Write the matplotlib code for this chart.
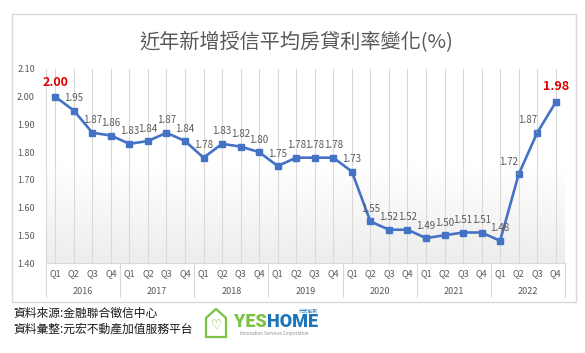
import numpy as np
import matplotlib
matplotlib.use("Agg")
from matplotlib import pyplot as plt
from matplotlib.colors import LinearSegmentedColormap
from matplotlib.patches import Rectangle, Polygon

plt.rcParams['font.family'] = ['Noto Sans CJK TC', 'DejaVu Sans']

years = ["2016", "2017", "2018", "2019", "2020", "2021", "2022"]
quarters = ["Q1", "Q2", "Q3", "Q4"]
rates = [2.00, 1.95, 1.87, 1.86,
         1.83, 1.84, 1.87, 1.84,
         1.78, 1.83, 1.82, 1.80,
         1.75, 1.78, 1.78, 1.78,
         1.73, 1.55, 1.52, 1.52,
         1.49, 1.50, 1.51, 1.51,
         1.48, 1.72, 1.87, 1.98]
yticks = [1.40, 1.50, 1.60, 1.70, 1.80, 1.90, 2.00, 2.10]

title = "近年新增授信平均房貸利率變化(%)"
source_lines = ["資料來源:金融聯合徵信中心", "資料彙整:元宏不動產加值服務平台"]

W, H = 585, 353
grey = "#595959"
line_col = "#4472C4"

fig = plt.figure(figsize=(W / 100, H / 100), dpi=100)

# outer border of the chart
fig.patches.append(Rectangle((12 / W, 1 - 302 / H), 564 / W, 288 / H, transform=fig.transFigure,
                             fill=False, edgecolor="#d9d9d9", linewidth=1))

fig.text(296 / W, 1 - 43 / H, title, ha="center", va="center", fontsize=14.5, color=grey,
         fontweight="medium")

ax = fig.add_axes([46 / W, 1 - 263 / H, 519 / W, 194 / H])
n = len(rates)
x = np.arange(n)

# background gradient of the plot area (white on top, light grey at the bottom)
cmap = LinearSegmentedColormap.from_list("bg", ["#ffffff", "#ffffff", "#ededed"])
grad = np.linspace(0, 1, 100).reshape(-1, 1)
ax.imshow(grad, extent=[-0.5, n - 0.5, 1.40, 2.10], aspect="auto", cmap=cmap, zorder=0)

for xi in x:
    ax.axvline(xi, color="#d9d9d9", linewidth=0.8, zorder=1)

ax.plot(x, rates, color=line_col, linewidth=1.9, marker="s", markersize=5, zorder=3)

ax.set_xlim(-0.5, n - 0.5)
ax.set_ylim(1.40, 2.10)
ax.set_yticks(yticks)
ax.set_yticklabels([f"{v:.2f}" for v in yticks])
ax.set_xticks([])
ax.tick_params(axis="y", length=0, pad=8, labelsize=6.5, labelcolor=grey)
for s in ["top", "right"]:
    ax.spines[s].set_visible(False)
ax.spines["left"].set_color("#d9d9d9")
ax.spines["bottom"].set_color("#d9d9d9")

# multi-level category labels
trans = ax.get_xaxis_transform()
for i in range(n):
    ax.text(i, -11 / 194, quarters[i % 4], transform=trans, ha="center", va="center",
            fontsize=6.5, color=grey)
for j, yr in enumerate(years):
    ax.text(4 * j + 1.5, -29 / 194, yr, transform=trans, ha="center", va="center",
            fontsize=6.5, color=grey)
for b in range(len(years) + 1):
    ax.plot([4 * b - 0.5, 4 * b - 0.5], [0, -34 / 194], transform=trans, color="#d9d9d9",
            linewidth=0.8, clip_on=False)

# data labels
for i, v in enumerate(rates):
    if i == 0 or i == n - 1:
        dy = 10 if i == 0 else 11.5
        ax.annotate(f"{v:.2f}", (i, v), xytext=(0, dy), textcoords="offset points",
                    ha="center", va="center", fontsize=9, fontweight="bold", color="#e00000")
    elif i in (n - 3, n - 2):
        ax.annotate(f"{v:.2f}", (i, v), xytext=(-7, 9), textcoords="offset points",
                    ha="center", va="center", fontsize=7, color=grey,
                    arrowprops=dict(arrowstyle="-", color="#a6a6a6", lw=0.6, shrinkA=3, shrinkB=3))
    else:
        ax.annotate(f"{v:.2f}", (i, v), xytext=(0, 9), textcoords="offset points",
                    ha="center", va="center", fontsize=7, color=grey)

# source notes
for k, s in enumerate(source_lines):
    fig.text(13 / W, 1 - (313 + 16 * k) / H, s, ha="left", va="center", fontsize=8.5, color="#1a1a1a")

# logo
green = "#7dc242"
house = [(206, 337), (206, 318), (216, 309), (226, 318), (226, 337)]
fig.patches.append(Polygon([(px / W, 1 - py / H) for px, py in house], closed=True,
                           transform=fig.transFigure, fill=False, edgecolor=green, linewidth=1.6))
fig.text(216 / W, 1 - 325 / H, "♡", ha="center", va="center", fontsize=9, color=green,
         family="DejaVu Sans")
fig.text(267 / W, 1 - 322 / H, "YES", ha="right", va="center", fontsize=13, fontweight="black",
         color=green, family="Roboto")
fig.text(267 / W, 1 - 322 / H, "HOME", ha="left", va="center", fontsize=13, fontweight="black",
         color="#1b75bb", family="Roboto")
fig.text(318 / W, 1 - 311 / H, "元宏創新", ha="right", va="center", fontsize=3.5, color="#1b75bb")
fig.text(274 / W, 1 - 334 / H, "Innovation Services Corporation", ha="center", va="center",
         fontsize=3.3, color="#8c8c8c")

fig.savefig("out.png", dpi=100)
